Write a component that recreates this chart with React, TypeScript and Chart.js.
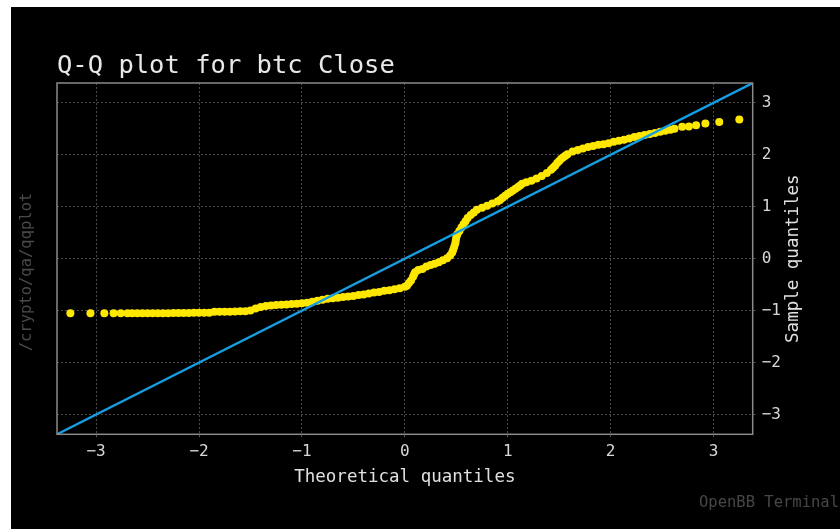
import React, { useEffect, useRef } from "react";
import { Chart, registerables } from "chart.js";

Chart.register(...registerables);

// Theoretical quantiles (x)
const theoreticalQuantiles = [
  -3.25, -3.055, -2.92, -2.83, -2.76, -2.695,
  -2.65, -2.6, -2.55, -2.5, -2.45, -2.4, -2.35, -2.3, -2.25, -2.2,
  -2.15, -2.1, -2.05, -2.0, -1.95, -1.9, -1.85, -1.8, -1.75, -1.7,
  -1.65, -1.6, -1.55, -1.5, -1.45, -1.4, -1.35, -1.3, -1.25, -1.2,
  -1.15, -1.1, -1.05, -1.0, -0.95, -0.9, -0.85, -0.8, -0.75, -0.7,
  -0.65, -0.6, -0.55, -0.5, -0.45, -0.4, -0.35, -0.3, -0.25, -0.2,
  -0.15, -0.1, -0.05, 0.0, 0.02, 0.04, 0.06, 0.08, 0.09, 0.1,
  0.13, 0.17, 0.21, 0.25, 0.29, 0.33, 0.37, 0.41, 0.44, 0.46,
  0.47, 0.48, 0.49, 0.495, 0.5, 0.51, 0.53, 0.55, 0.57, 0.59,
  0.61, 0.64, 0.67, 0.7, 0.75, 0.8, 0.85, 0.9, 0.925, 0.95,
  0.975, 1.0, 1.025, 1.05, 1.075, 1.1, 1.12, 1.14, 1.18, 1.23,
  1.28, 1.33, 1.38, 1.42, 1.44, 1.46, 1.48, 1.5, 1.52, 1.54,
  1.56, 1.58, 1.63, 1.68, 1.73, 1.78, 1.83, 1.88, 1.93,
  1.98, 2.03, 2.08, 2.13, 2.18, 2.23, 2.28, 2.33, 2.38, 2.43,
  2.48, 2.53, 2.58, 2.62,
  2.695, 2.76, 2.83, 2.92, 3.055, 3.25,
];

// Sample quantiles (y)
const sampleQuantiles = [
  -1.05, -1.05, -1.05, -1.05, -1.05, -1.05,
  -1.05, -1.05, -1.05, -1.05, -1.05, -1.05, -1.05, -1.05, -1.045, -1.045,
  -1.045, -1.045, -1.04, -1.04, -1.04, -1.04, -1.02, -1.02, -1.02, -1.02,
  -1.015, -1.01, -1.01, -1.0, -0.96, -0.93, -0.91, -0.9, -0.89, -0.885,
  -0.88, -0.875, -0.87, -0.86, -0.85, -0.83, -0.81, -0.79, -0.77, -0.76,
  -0.75, -0.74, -0.73, -0.72, -0.7, -0.69, -0.67, -0.65, -0.64, -0.62,
  -0.61, -0.59, -0.57, -0.54, -0.52, -0.47, -0.42, -0.35, -0.3, -0.26,
  -0.22, -0.2, -0.15, -0.12, -0.1, -0.07, -0.03, 0.01, 0.06, 0.12,
  0.17, 0.23, 0.29, 0.35, 0.41, 0.47, 0.53, 0.6, 0.66, 0.72,
  0.78, 0.84, 0.89, 0.94, 0.98, 1.02, 1.06, 1.1, 1.13, 1.17,
  1.21, 1.25, 1.28, 1.31, 1.345, 1.38, 1.41, 1.44, 1.47, 1.5,
  1.54, 1.59, 1.65, 1.71, 1.75, 1.79, 1.84, 1.88, 1.92, 1.95,
  1.98, 2.01, 2.06, 2.09, 2.12, 2.15, 2.17, 2.19, 2.2,
  2.22, 2.25, 2.27, 2.29, 2.31, 2.34, 2.36, 2.38, 2.4, 2.42,
  2.44, 2.46, 2.48, 2.5,
  2.54, 2.545, 2.565, 2.6, 2.63, 2.68,
];

// 45-degree reference line end points (axis limits)
const refLineX = [-3.38, 3.38];
const refLineY = [-3.38, 3.38];

const xTickValues = [-3, -2, -1, 0, 1, 2, 3];
const yTickValues = [-3, -2, -1, 0, 1, 2, 3];

const chartTitle = "Q-Q plot for btc Close";
const xAxisTitle = "Theoretical quantiles";
const yAxisTitle = "Sample quantiles";
const commandText = "/crypto/qa/qqplot";
const brandText = "OpenBB Terminal";

const MONO = "'DejaVu Sans Mono', monospace";
const W = 829;
const H = 522;

const fmtTick = (v: number | string) => {
  const n = Number(v);
  return n < 0 ? "\u2212" + Math.abs(n) : String(n);
};

const textPlugin = {
  id: "customText",
  afterDraw(chart: any) {
    const ctx: CanvasRenderingContext2D = chart.ctx;
    const a = chart.chartArea;
    ctx.save();
    // frame
    ctx.strokeStyle = "#8a8a8a";
    ctx.lineWidth = 1.5;
    ctx.setLineDash([]);
    ctx.strokeRect(a.left, a.top, a.right - a.left, a.bottom - a.top);

    // title
    ctx.fillStyle = "#e8e8e8";
    ctx.font = `25.5px ${MONO}`;
    ctx.textAlign = "left";
    ctx.textBaseline = "alphabetic";
    ctx.fillText(chartTitle, a.left, 66);

    // x axis title
    ctx.font = `17.5px ${MONO}`;
    ctx.fillStyle = "#e0e0e0";
    ctx.textAlign = "center";
    ctx.textBaseline = "middle";
    ctx.fillText(xAxisTitle, (a.left + a.right) / 2, 470);

    // y axis title (right, rotated)
    ctx.save();
    ctx.translate(782, (a.top + a.bottom) / 2);
    ctx.rotate(-Math.PI / 2);
    ctx.fillText(yAxisTitle, 0, 0);
    ctx.restore();

    // command watermark (left)
    ctx.save();
    ctx.font = `15.5px ${MONO}`;
    ctx.fillStyle = "#4a4a4a";
    ctx.translate(16, 265);
    ctx.rotate(-Math.PI / 2);
    ctx.textAlign = "center";
    ctx.textBaseline = "middle";
    ctx.fillText(commandText, 0, 0);
    ctx.restore();

    // brand
    ctx.font = `15.5px ${MONO}`;
    ctx.fillStyle = "#474747";
    ctx.textAlign = "left";
    ctx.textBaseline = "middle";
    ctx.fillText(brandText, 688, 496);
    ctx.restore();
  },
};

export default function App() {
  const canvasRef = useRef<HTMLCanvasElement | null>(null);

  useEffect(() => {
    if (!canvasRef.current) return;
    const points = theoreticalQuantiles.map((x, i) => ({ x, y: sampleQuantiles[i] }));
    const linePts = refLineX.map((x, i) => ({ x, y: refLineY[i] }));

    const chart = new Chart(canvasRef.current, {
      type: "scatter",
      data: {
        datasets: [
          {
            label: "45 line",
            data: linePts,
            showLine: true,
            borderColor: "#159fe2",
            borderWidth: 2.3,
            pointRadius: 0,
            pointHoverRadius: 0,
            order: 0,
          },
          {
            label: "qq",
            data: points,
            backgroundColor: "#ffe800",
            borderWidth: 0,
            pointRadius: 4,
            pointHoverRadius: 4,
            order: 1,
          },
        ],
      },
      options: {
        responsive: false,
        animation: false,
        devicePixelRatio: 1,
        layout: { padding: { left: 46, top: 76, right: 0, bottom: 0 } },
        plugins: {
          legend: { display: false },
          tooltip: { enabled: false },
          title: { display: false },
        },
        scales: {
          x: {
            type: "linear",
            position: "bottom",
            min: refLineX[0],
            max: refLineX[1],
            afterBuildTicks: (s: any) => {
              s.ticks = xTickValues.map((v) => ({ value: v }));
            },
            afterFit: (s: any) => {
              s.height = 94.7;
            },
            ticks: {
              color: "#d8d8d8",
              font: { family: MONO, size: 16 },
              padding: 5,
              maxRotation: 0,
              autoSkip: false,
              callback: fmtTick,
            },
            grid: {
              color: "#4a4a4a",
              lineWidth: 1,
              tickLength: 3,
              tickColor: "#4a4a4a",
            },
            border: { display: false, dash: [2, 2] },
          },
          y: {
            type: "linear",
            position: "right",
            min: refLineY[0],
            max: refLineY[1],
            afterBuildTicks: (s: any) => {
              s.ticks = yTickValues.map((v) => ({ value: v }));
            },
            afterFit: (s: any) => {
              s.width = 87.3;
            },
            ticks: {
              color: "#d8d8d8",
              font: { family: MONO, size: 16 },
              padding: 6,
              autoSkip: false,
              callback: fmtTick,
            },
            grid: {
              color: "#4a4a4a",
              lineWidth: 1,
              tickLength: 3,
              tickColor: "#4a4a4a",
            },
            border: { display: false, dash: [2, 2] },
          },
        },
      },
      plugins: [textPlugin],
    });
    return () => chart.destroy();
  }, []);

  return (
    <div
      style={{
        position: "absolute",
        left: 11,
        top: 7,
        width: W,
        height: H,
        background: "#000",
      }}
    >
      <canvas ref={canvasRef} width={W} height={H} style={{ display: "block" }} />
    </div>
  );
}
